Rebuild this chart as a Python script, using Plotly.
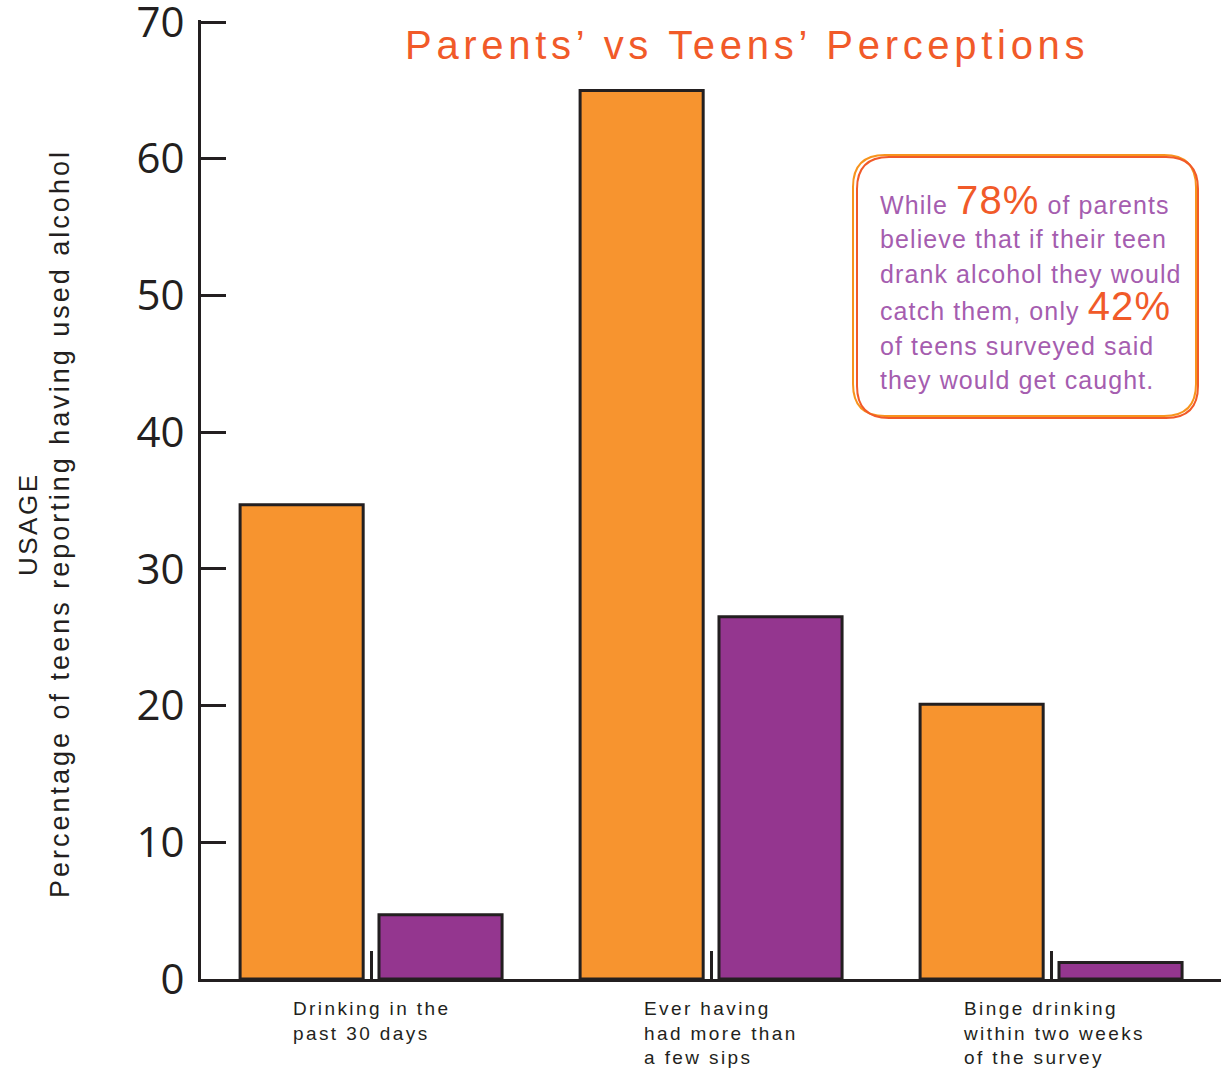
import plotly.graph_objects as go

# ---- data ----
categories = ["Drinking in the past 30 days",
              "Ever having had more than a few sips",
              "Binge drinking within two weeks of the survey"]
category_labels = ["Drinking in the<br>past 30 days",
                   "Ever having<br>had more than<br>a few sips",
                   "Binge drinking<br>within two weeks<br>of the survey"]
teens_reported = [34.7, 65.0, 20.1]
parents_perceived = [4.7, 26.5, 1.2]
y_ticks = [0, 10, 20, 30, 40, 50, 60, 70]

title_text = "Parents’ vs Teens’ Perceptions"
ytitle_line1 = "USAGE"
ytitle_line2 = "Percentage of teens reporting having used alcohol"
callout_lines = [
    "While <span style='font-size:40px;color:#F15A29'>78%</span> of parents",
    "believe that if their teen",
    "drank alcohol they would",
    "catch them, only <span style='font-size:40px;color:#F15A29'>42%</span>",
    "of teens surveyed said",
    "they would get caught.",
]

# ---- layout geometry (pixels) ----
W, H = 1227, 1072
L, R, T, B = 201, 1221, 20, 979
Y_MAX = 70.15

def px(x):
    return (x - L) / (R - L)

def py(y):
    return (B - y) / (B - T)

def spaced(text, ls):
    parts = text.split("<br>")
    return "<br>".join(f"<span style='letter-spacing:{ls}px'>{p}</span>" for p in parts)

ORANGE = "#F7942F"
PURPLE = "#94368F"
DARK = "#231F20"
RED_ORANGE = "#F15A29"
TEXT_PURPLE = "#A55DAF"

fig = go.Figure()
fig.add_trace(go.Bar(x=categories, y=teens_reported, name="Teens",
                     marker=dict(color=ORANGE, line=dict(color=DARK, width=3)),
                     width=0.362, offset=-0.385))
fig.add_trace(go.Bar(x=categories, y=parents_perceived, name="Parents",
                     marker=dict(color=PURPLE, line=dict(color=DARK, width=3)),
                     width=0.362, offset=0.0235))

fig.update_layout(
    width=W, height=H,
    margin=dict(l=L, r=W - R, t=T, b=H - B, pad=0, autoexpand=False),
    plot_bgcolor="white", paper_bgcolor="white",
    showlegend=False,
    barmode="group",
    xaxis=dict(range=[-0.5, 2.5], showline=True, linecolor=DARK, linewidth=3,
               ticks="inside", ticklen=28, tickwidth=3, tickcolor=DARK,
               showticklabels=False, showgrid=False, zeroline=False, automargin=False),
    yaxis=dict(range=[0, Y_MAX], tickvals=y_ticks, showline=True, linecolor=DARK, linewidth=3,
               ticks="inside", ticklen=25, tickwidth=3, tickcolor=DARK,
               tickfont=dict(family="Open Sans", size=42, color=DARK),
               ticklabelstandoff=5, ticklabeloverflow="allow", automargin=False,
               showgrid=False, zeroline=False),
)

# title
fig.add_annotation(text=spaced(title_text, 4.7), xref="paper", yref="paper",
                   x=px(747), y=py(45), xanchor="center", yanchor="middle",
                   showarrow=False,
                   font=dict(family="Liberation Sans", size=40, color=RED_ORANGE))

# y title (two rotated lines)
fig.add_annotation(text=spaced(ytitle_line1, 2.5), xref="paper", yref="paper",
                   x=px(28), y=py(524), xanchor="center", yanchor="middle",
                   textangle=-90, showarrow=False,
                   font=dict(family="Liberation Sans", size=26, color=DARK))
fig.add_annotation(text=spaced(ytitle_line2, 3), xref="paper", yref="paper",
                   x=px(60), y=py(524), xanchor="center", yanchor="middle",
                   textangle=-90, showarrow=False,
                   font=dict(family="Liberation Sans", size=27, color=DARK))

# category labels
label_xshift = [0, 10, 3]
for cat, lab, xs in zip(categories, category_labels, label_xshift):
    fig.add_annotation(text=spaced(lab, 2.4), x=cat, xref="x", yref="paper", y=py(996),
                       xanchor="center", yanchor="top", align="left", xshift=xs,
                       showarrow=False,
                       font=dict(family="Liberation Sans", size=19, color=DARK))

# callout box (double rounded border)
def rounded_path(x0, y0, x1, y1, r):
    rx = r / (R - L)
    ry = r / (B - T)
    X0, X1 = px(x0), px(x1)
    Y0, Y1 = py(y0), py(y1)
    return (f"M {X0 + rx} {Y0} L {X1 - rx} {Y0} Q {X1} {Y0} {X1} {Y0 - ry} "
            f"L {X1} {Y1 + ry} Q {X1} {Y1} {X1 - rx} {Y1} "
            f"L {X0 + rx} {Y1} Q {X0} {Y1} {X0} {Y1 + ry} "
            f"L {X0} {Y0 - ry} Q {X0} {Y0} {X0 + rx} {Y0} Z")

fig.add_shape(type="path", xref="paper", yref="paper",
              path=rounded_path(853, 155, 1196, 416, 32),
              line=dict(color="#F7941D", width=2), fillcolor="white")
fig.add_shape(type="path", xref="paper", yref="paper",
              path=rounded_path(857, 157, 1198, 418, 32),
              line=dict(color=RED_ORANGE, width=2))

line_y = [200, 239, 274, 306, 346, 380]
for txt, yy in zip(callout_lines, line_y):
    fig.add_annotation(text=spaced(txt, 1.1), xref="paper", yref="paper",
                       x=px(878), y=py(yy), xanchor="left", yanchor="middle",
                       showarrow=False,
                       font=dict(family="Liberation Sans", size=25, color=TEXT_PURPLE))

fig.write_html("out.html")
